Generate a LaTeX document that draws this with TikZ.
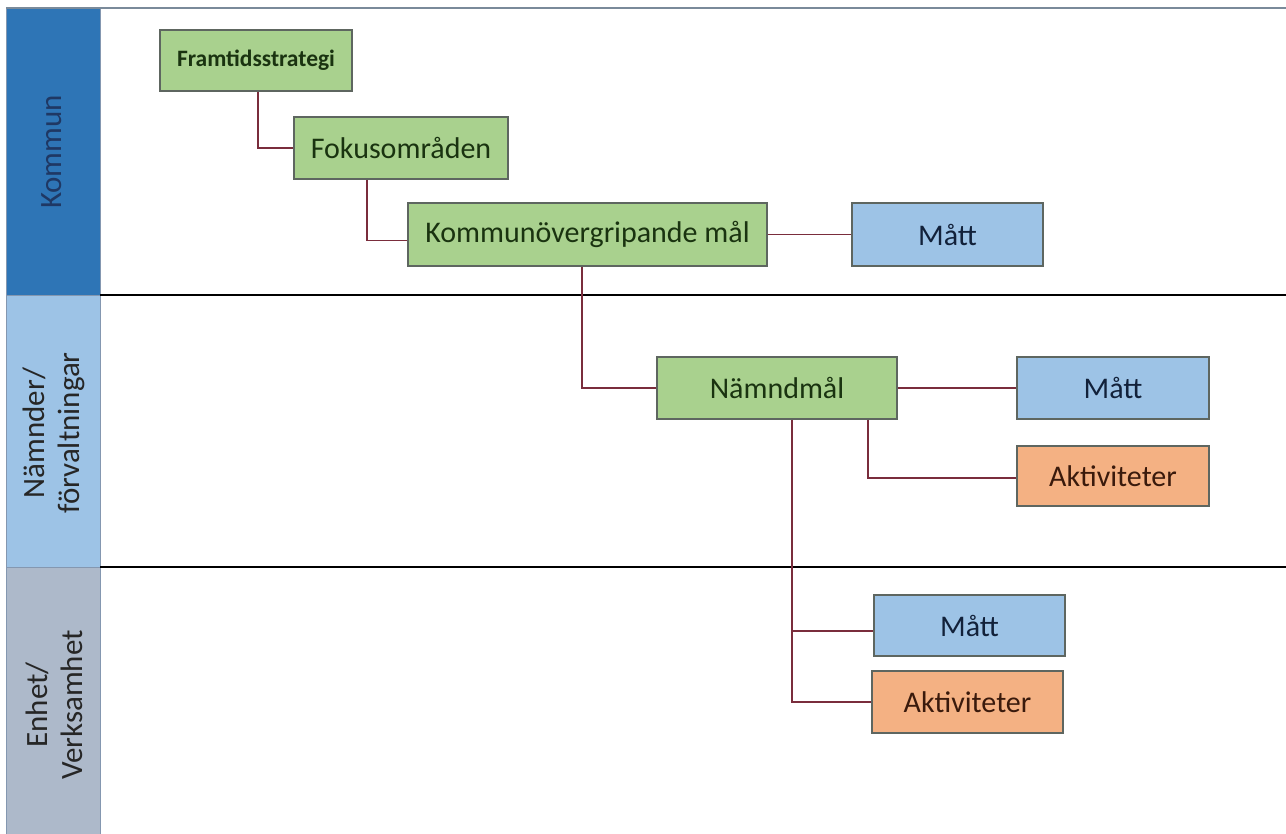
\documentclass[tikz,border=0pt]{standalone}
\usepackage{fontspec}
\setmainfont{Carlito}
\definecolor{kommunband}{HTML}{2E75B6}
\definecolor{namndband}{HTML}{9DC3E6}
\definecolor{enhetband}{HTML}{ADB9CA}
\definecolor{bandedge}{HTML}{8497B0}
\definecolor{gfill}{HTML}{A9D18E}
\definecolor{bfill}{HTML}{9DC3E6}
\definecolor{ofill}{HTML}{F4B183}
\definecolor{boxedge}{HTML}{5E6660}
\definecolor{gtext}{HTML}{1A3310}
\definecolor{btext}{HTML}{12213A}
\definecolor{otext}{HTML}{3A1A0C}
\definecolor{conn}{HTML}{7A2D3C}
\definecolor{navytext}{HTML}{1F3864}
\definecolor{topline}{HTML}{7A8A9A}
\begin{document}
\begin{tikzpicture}[x=1pt,y=-1pt,
  basebox/.style={draw=boxedge, line width=1.2pt, inner sep=0pt, anchor=center,
    font=\fontsize{30}{36}\selectfont},
  gbox/.style={basebox, fill=gfill, text=gtext},
  bbox/.style={basebox, fill=bfill, text=btext},
  obox/.style={basebox, fill=ofill, text=otext},
  band/.style={draw=bandedge, line width=0.8pt},
  bandlabel/.style={rotate=90, align=center, font=\fontsize{31}{35}\selectfont, inner sep=0pt},
  sep/.style={draw=black, line width=1.5pt},
  link/.style={draw=conn, line width=1.3pt}
]
\useasboundingbox (0,0) rectangle (1286,834);
\fill[white] (0,0) rectangle (1286,834);
% bands
\path[band, fill=kommunband] (6,8) rectangle (100,295);
\path[band, fill=namndband] (6,295) rectangle (100,567);
\path[band, fill=enhetband] (6,567) rectangle (100,834);
\draw[topline, line width=1.6pt] (6,8) -- (1286,8);
\draw[sep] (100,295) -- (1286,295);
\draw[sep] (100,567) -- (1286,567);
\node[bandlabel, text=navytext] (lk) at (52,152) {Kommun};
\node[bandlabel, text=black!85] (ln) at (54,433) {Nämnder/\\förvaltningar};
\node[bandlabel, text=black!85] (le) at (54,705) {Enhet/\\Verksamhet};
% boxes
\node[gbox, minimum width=192pt, minimum height=61pt,
      font=\fontsize{23.5}{28}\selectfont\bfseries] (fram) at (256,60.5) {Framtidsstrategi};
\node[gbox, minimum width=214pt, minimum height=62pt] (fok) at (401,148) {Fokusområden};
\node[gbox, minimum width=359pt, minimum height=63pt] (kom) at (587.5,234.5) {Kommunövergripande mål};
\node[bbox, minimum width=191pt, minimum height=63pt] (matta) at (947.5,234.5) {Mått};
\node[gbox, minimum width=240pt, minimum height=62pt] (namnd) at (777,388) {Nämndmål};
\node[bbox, minimum width=192pt, minimum height=62pt] (mattb) at (1113,388) {Mått};
\node[obox, minimum width=192pt, minimum height=60pt] (akta) at (1113,476) {Aktiviteter};
\node[bbox, minimum width=191pt, minimum height=61pt] (mattc) at (969.5,625.5) {Mått};
\node[obox, minimum width=191pt, minimum height=62pt] (aktb) at (967.5,702) {Aktiviteter};
% connectors
\draw[link] ([xshift=2pt]fram.south) |- (fok.west);
\draw[link] ([xshift=-34pt]fok.south) |- ([yshift=-6pt]kom.west);
\draw[link] (kom.east) -- (matta.west);
\draw[link] ([xshift=-5.5pt]kom.south) |- (namnd.west);
\draw[link] (namnd.east) -- (mattb.west);
\draw[link] ([xshift=91pt]namnd.south) |- ([yshift=-2pt]akta.west);
\draw[link] ([xshift=15pt]namnd.south) |- (aktb.west);
\draw[link] ([xshift=15pt,yshift=-5.5pt]namnd.south |- mattc.west) -- ([yshift=-5.5pt]mattc.west);
\end{tikzpicture}
\end{document}
